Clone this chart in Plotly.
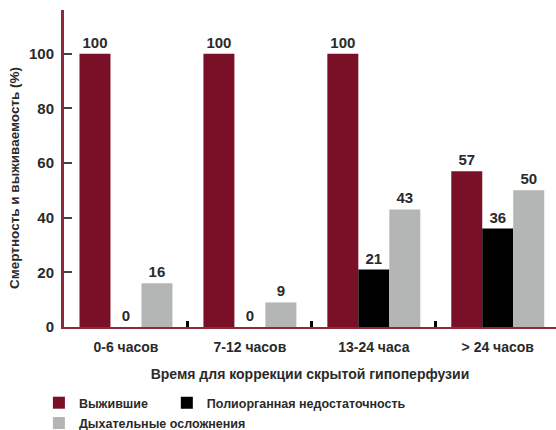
import plotly.graph_objects as go

# Categories: time to correct occult hypoperfusion
categories = ["0-6 часов", "7-12 часов", "13-24 часа", "> 24 часов"]

# Series values (%)
survivors = [100, 100, 100, 57]
multiorgan = [0, 0, 21, 36]
respiratory = [16, 9, 43, 50]

series_names = ["Выжившие", "Полиорганная недостаточность", "Дыхательные осложнения"]
colors = ["#7a1027", "#000000", "#b4b6b6"]
legend_ids = ["legend", "legend2", "legend3"]

y_ticks = [0, 20, 40, 60, 80, 100]

x_pos = list(range(len(categories)))
FONT = "Liberation Sans"
TEXT_COLOR = "#2a2a2a"
AXIS_RED = "#8a2a3a"

fig = go.Figure()
for name, vals, col, leg in zip(series_names, [survivors, multiorgan, respiratory], colors, legend_ids):
    fig.add_trace(go.Bar(
        x=x_pos, y=vals, name=name, marker=dict(color=col, line=dict(width=0)),
        text=[str(v) for v in vals], textposition="outside", cliponaxis=False,
        textfont=dict(family=FONT, size=15, color=TEXT_COLOR, weight="bold"),
        legend=leg, showlegend=True,
    ))

legend_font = dict(family=FONT, size=12.5, color=TEXT_COLOR, weight="bold")


def legend_box(x, y):
    return dict(orientation="h", x=x, xanchor="left", y=y, yanchor="middle",
                font=legend_font, bgcolor="rgba(0,0,0,0)", itemclick=False)


fig.update_layout(
    width=556, height=430,
    margin=dict(l=64, r=0, t=10, b=103, autoexpand=False),
    plot_bgcolor="white", paper_bgcolor="white",
    barmode="group", bargap=0.25, bargroupgap=0,
    font=dict(family=FONT, color=TEXT_COLOR),
    xaxis=dict(
        range=[-0.5, 3.47], tickvals=x_pos, ticktext=categories,
        showline=True, linecolor=AXIS_RED, linewidth=2,
        ticks="", ticklabelstandoff=6,
        tickfont=dict(family=FONT, size=14, color=TEXT_COLOR, weight="bold"),
        minor=dict(tickvals=[0.5, 1.5, 2.5], ticks="inside", ticklen=6,
                   tickwidth=3, tickcolor="black", showgrid=False),
        title=dict(text="Время для коррекции скрытой гипоперфузии", standoff=15,
                   font=dict(family=FONT, size=14, color=TEXT_COLOR, weight="bold")),
        showgrid=False, zeroline=False,
    ),
    yaxis=dict(
        range=[0, 116], tickvals=y_ticks,
        showline=True, linecolor=AXIS_RED, linewidth=3,
        ticks="inside", ticklen=8, tickwidth=2, tickcolor="#444444",
        ticklabelstandoff=4,
        tickfont=dict(family=FONT, size=15, color=TEXT_COLOR, weight="bold"),
        showgrid=False, zeroline=False,
    ),
    annotations=[dict(
        text="Смертность и выживаемость (%)", textangle=-90,
        xref="paper", yref="paper", x=(14 - 64) / 492, y=0.47,
        xanchor="center", yanchor="middle", showarrow=False,
        font=dict(family=FONT, size=13.5, color=TEXT_COLOR, weight="bold"),
    )],
    legend=legend_box(-0.051, -0.24),
    legend2=legend_box(0.209, -0.24),
    legend3=legend_box(-0.051, -0.304),
)

fig.write_html("out.html")
